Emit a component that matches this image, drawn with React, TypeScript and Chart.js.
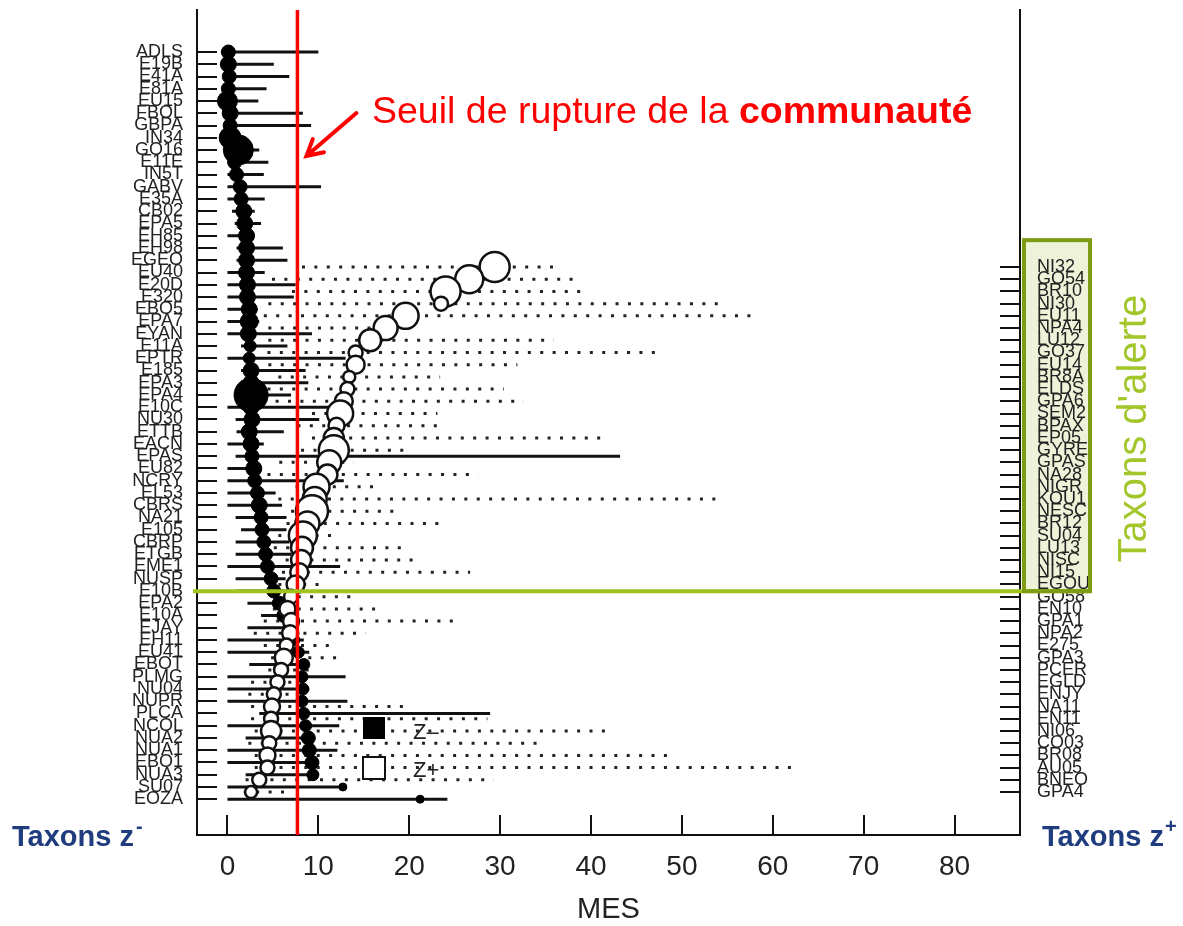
import React, { useEffect, useRef } from 'react';
import { Chart, registerables } from 'chart.js';

Chart.register(...registerables);

const FONT = "'Liberation Sans', Arial, Helvetica, sans-serif";

// ---------- z- taxa (left axis) ----------
const zMinusTaxa = [
  'ADLS', 'E19B', 'E41A', 'E81A', 'EU15', 'FBOL', 'GBPA', 'IN34', 'GO16', 'E11E',
  'IN5T', 'GABV', 'E35A', 'CB02', 'EPA5', 'EH85', 'EH98', 'EGEO', 'EU40', 'E20D',
  'E320', 'EBO5', 'EPA7', 'EYAN', 'E11A', 'EPTR', 'E185', 'EPA3', 'EPA4', 'E10C',
  'NU30', 'ETTB', 'EACN', 'EPAS', 'EU82', 'NCRY', 'EL53', 'CBRS', 'NA21', 'E105',
  'CBRP', 'ETGB', 'EME1', 'NUSP', 'E10B', 'EPA2', 'E10A', 'EJAY', 'EH11', 'EU41',
  'EBOT', 'PLMG', 'NU04', 'NUPR', 'PLCA', 'NCOL', 'NUA2', 'NUA1', 'EBO1', 'NUA3',
  'SU07', 'EOZA',
];
const zMinusCp = [
  0.1, 0.1, 0.2, 0.1, 0.0, 0.3, 0.3, 0.3, 1.2, 0.8,
  1.0, 1.4, 1.5, 1.8, 1.9, 2.1, 2.1, 2.1, 2.1, 2.2,
  2.2, 2.4, 2.4, 2.3, 2.5, 2.4, 2.6, 2.6, 2.6, 2.6,
  2.7, 2.4, 2.6, 2.7, 2.9, 3.0, 3.3, 3.5, 3.7, 3.8,
  4.0, 4.2, 4.4, 4.8, 5.1, 5.7, 6.2, 6.8, 7.3, 7.8,
  8.4, 8.2, 8.3, 8.2, 8.4, 8.6, 8.9, 9.0, 9.3, 9.4,
  12.7, 21.2,
];
const zMinusQ05 = [
  0, 0, 0, 0, 0, 0, 0, 0, 0, 0,
  0, 0, 0, 0.5, 0.8, 0, 1.0, 1.0, 0, 0,
  0, 0, 0, 0, 1.5, 0, 1.5, 1.5, 1.0, 0,
  0.9, 1.0, 0, 0.9, 0, 0, 0, 0, 0.9, 1.5,
  0.9, 0.9, 0, 0.9, 1.0, 2.2, 3.7, 2.2, 0, 0,
  2.4, 0, 0, 0, 3.5, 0, 2.0, 0, 0, 2.0,
  0, 0,
];
const zMinusQ95 = [
  10.0, 5.1, 6.8, 4.3, 3.4, 8.3, 9.2, 2.0, 3.5, 4.5,
  4.0, 10.3, 4.1, 3.0, 3.7, 3.0, 6.1, 6.6, 4.1, 7.5,
  7.3, 3.3, 3.5, 9.3, 6.6, 13.0, 8.6, 8.9, 7.0, 11.4,
  10.1, 6.2, 4.0, 43.2, 3.5, 12.8, 5.3, 6.0, 6.5, 6.5,
  6.8, 7.0, 12.4, 6.4, 7.0, 6.6, 7.3, 7.5, 8.4, 9.0,
  9.0, 13.0, 9.0, 13.2, 28.9, 12.3, 9.5, 12.1, 9.8, 9.8,
  12.8, 24.2,
];
const zMinusSize = [
  7, 8, 7, 7, 10, 8, 7, 11, 15, 7,
  7, 7, 7, 8, 8, 8, 8, 8, 8, 8,
  8, 8, 9, 8, 6, 6, 8, 8, 17, 8,
  8, 8, 8, 7, 8, 7, 7, 8, 7, 7,
  7, 7, 7, 7, 7, 7, 7, 6, 6, 6,
  6, 6, 6, 6, 6, 6, 7, 7, 7, 6,
  4, 4,
];

// ---------- z+ taxa (right axis) ----------
const zPlusTaxa = [
  'NI32', 'GO54', 'BR10', 'NI30', 'EU11', 'NPA4', 'LU12', 'GO37', 'EU14', 'BR8A',
  'ELDS', 'GPA6', 'SEM2', 'BPAX', 'EP05', 'GYRE', 'GPAS', 'NA28', 'NIGR', 'KOU1',
  'NESC', 'BR12', 'SU04', 'LU13', 'NISC', 'NI15', 'EGOU', 'GO58', 'EN10', 'GPA1',
  'NPA2', 'E275', 'GPA3', 'PCER', 'EGLD', 'ENJY', 'NA11', 'EN11', 'NI06', 'CO03',
  'BR08', 'AU05', 'BNEO', 'GPA4',
];
const zPlusCp = [
  29.4, 26.6, 24.0, 23.5, 19.6, 17.4, 15.7, 14.1, 14.1, 13.4,
  13.2, 12.8, 12.4, 12.0, 11.7, 11.7, 11.2, 11.0, 9.8, 9.6,
  9.3, 8.8, 8.3, 8.2, 8.1, 7.9, 7.5, 7.0, 6.6, 7.0,
  6.9, 6.5, 6.2, 5.9, 5.5, 5.1, 4.9, 4.8, 4.8, 4.6,
  4.4, 4.4, 3.5, 2.6,
];
const zPlusQ05 = [
  8.2, 4.9, 7.1, 4.5, 4.0, 4.5, 4.5, 4.4, 4.5, 5.6,
  4.4, 5.3, 9.3, 7.7, 9.3, 8.1, 5.7, 4.4, 7.5, 5.6,
  7.0, 6.5, 5.6, 5.1, 6.4, 6.0, 5.6, 5.0, 5.0, 4.0,
  2.9, 4.0, 4.8, 4.5, 2.6, 2.3, 2.6, 2.6, 3.0, 2.3,
  3.0, 3.0, 2.0, 1.8,
];
const zPlusQ95 = [
  36.6, 38.8, 39.6, 54.6, 58.1, 19.0, 35.9, 47.6, 31.9, 23.4,
  30.4, 32.6, 23.1, 23.1, 41.6, 20.3, 13.9, 27.6, 17.0, 54.2,
  19.0, 23.4, 12.4, 19.9, 21.4, 26.7, 11.0, 13.6, 16.8, 25.8,
  15.2, 11.7, 12.8, 9.9, 8.0, 7.5, 20.1, 28.6, 42.3, 35.0,
  48.7, 63.0, 29.3, 6.6,
];
const zPlusSize = [
  15, 14, 15, 7, 13, 12, 11, 7, 9, 6,
  7, 9, 13, 8, 10, 15, 12, 10, 13, 12,
  16, 12, 14, 11, 10, 9, 9, 7, 8, 8,
  8, 7, 9, 7, 7, 7, 8, 7, 10, 7,
  8, 7, 7, 6,
];

const xTicks = [0, 10, 20, 30, 40, 50, 60, 70, 80];
const threshold = 7.7; // community change point (MES)
const alertCount = 27; // z+ taxa NI32..EGOU flagged as alert taxa

// axis ranges (layout)
const X_MIN = -3.35;
const X_MAX = 87.2;
const YL_MIN = -3.43;
const YL_MAX = 63.92;
const YR_MIN = -21.05;
const YR_MAX = 46.52;

const segments = (lo: number[], hi: number[]) =>
  lo.flatMap((a, i) => [
    { x: a, y: i },
    { x: hi[i], y: i },
    { x: null, y: null },
  ]);

const annotations = {
  id: 'annotations',
  beforeDraw(chart: any) {
    const { ctx, chartArea: ca, scales } = chart;
    const yR = scales.yR;
    const top = yR.getPixelForValue(-2.2);
    const bot = yR.getPixelForValue(alertCount - 0.45);
    ctx.save();
    ctx.fillStyle = '#eef2d8';
    ctx.fillRect(ca.right + 4, top, 66, bot - top);
    ctx.restore();
  },
  afterDraw(chart: any) {
    const { ctx, chartArea: ca, scales } = chart;
    const yR = scales.yR;
    const xS = scales.x;
    const top = yR.getPixelForValue(-2.2);
    const gy = yR.getPixelForValue(alertCount - 0.45);
    ctx.save();

    // legend
    ctx.fillStyle = '#000';
    ctx.fillRect(363, 717, 22, 22);
    ctx.fillStyle = '#fff';
    ctx.fillRect(363, 757, 22, 22);
    ctx.strokeStyle = '#111';
    ctx.lineWidth = 2;
    ctx.strokeRect(363, 757, 22, 22);
    ctx.fillStyle = '#222';
    ctx.font = `22px ${FONT}`;
    ctx.textAlign = 'left';
    ctx.textBaseline = 'middle';
    ctx.fillText('Z\u2013', 413, 733);
    ctx.fillText('Z+', 413, 771);

    // green alert line and box
    ctx.strokeStyle = '#9fc41c';
    ctx.lineWidth = 4;
    ctx.beginPath();
    ctx.moveTo(ca.left - 4, gy);
    ctx.lineTo(ca.right + 70, gy);
    ctx.stroke();
    ctx.strokeStyle = '#7e9b14';
    ctx.lineWidth = 4;
    ctx.strokeRect(ca.right + 4, top, 66, gy - top);

    ctx.save();
    ctx.translate(ca.right + 115, (top + gy) / 2 + 13);
    ctx.rotate(-Math.PI / 2);
    ctx.fillStyle = '#a3c62b';
    ctx.font = `40px ${FONT}`;
    ctx.textAlign = 'center';
    ctx.textBaseline = 'middle';
    ctx.fillText("Taxons d'alerte", 0, 0);
    ctx.restore();

    // arrow and threshold label
    const tx = xS.getPixelForValue(threshold) + 9;
    const ty = 156;
    const sx = tx + 50;
    const sy = 113;
    ctx.strokeStyle = '#ff0000';
    ctx.lineWidth = 4;
    ctx.lineCap = 'round';
    ctx.beginPath();
    ctx.moveTo(sx, sy);
    ctx.lineTo(tx, ty);
    const ang = Math.atan2(ty - sy, tx - sx);
    const hl = 18;
    ctx.moveTo(tx - hl * Math.cos(ang - 0.5), ty - hl * Math.sin(ang - 0.5));
    ctx.lineTo(tx, ty);
    ctx.lineTo(tx - hl * Math.cos(ang + 0.5), ty - hl * Math.sin(ang + 0.5));
    ctx.stroke();

    ctx.fillStyle = '#ff0000';
    ctx.textAlign = 'left';
    ctx.textBaseline = 'middle';
    ctx.font = `37.5px ${FONT}`;
    const part1 = 'Seuil de rupture de la ';
    ctx.fillText(part1, 372, 113);
    const w1 = ctx.measureText(part1).width;
    ctx.font = `bold 37.5px ${FONT}`;
    ctx.fillText('communauté', 372 + w1, 113);

    // bottom labels
    ctx.fillStyle = '#1f3c7e';
    ctx.font = `bold 29px ${FONT}`;
    ctx.textBaseline = 'middle';
    const lab = 'Taxons z';
    ctx.fillText(lab, 12, 838);
    const wl = ctx.measureText(lab).width;
    ctx.fillText(lab, 1042, 838);
    ctx.font = `bold 20px ${FONT}`;
    ctx.fillText('-', 12 + wl + 2, 827);
    ctx.fillText('+', 1042 + wl + 1, 827);

    ctx.restore();
  },
};

export default function App() {
  const ref = useRef<HTMLCanvasElement | null>(null);

  useEffect(() => {
    if (!ref.current) return;
    const chart = new Chart(ref.current, {
      type: 'scatter',
      data: {
        datasets: [
          {
            label: 'threshold',
            data: [
              { x: threshold, y: YL_MIN },
              { x: threshold, y: YL_MAX },
            ],
            yAxisID: 'yL',
            showLine: true,
            borderColor: '#ff0000',
            borderWidth: 3.5,
            pointRadius: 0,
          },
          {
            label: 'z+',
            data: zPlusCp.map((v, i) => ({ x: v, y: i })),
            yAxisID: 'yR',
            pointRadius: zPlusSize,
            pointBackgroundColor: '#ffffff',
            pointBorderColor: '#111111',
            pointBorderWidth: 2.5,
          },
          {
            label: 'z-',
            data: zMinusCp.map((v, i) => ({ x: v, y: i })),
            yAxisID: 'yL',
            pointRadius: zMinusSize,
            pointBackgroundColor: '#000000',
            pointBorderColor: '#000000',
            pointBorderWidth: 1,
          },
          {
            label: 'z- 5-95%',
            data: segments(zMinusQ05, zMinusQ95) as any,
            yAxisID: 'yL',
            showLine: true,
            spanGaps: false,
            borderColor: '#111111',
            borderWidth: 3,
            pointRadius: 0,
          },
          {
            label: 'z+ 5-95%',
            data: segments(zPlusQ05, zPlusQ95) as any,
            yAxisID: 'yR',
            showLine: true,
            spanGaps: false,
            borderColor: '#222222',
            borderWidth: 3,
            borderDash: [3, 9.4],
            pointRadius: 0,
          },
        ],
      },
      options: {
        animation: false,
        responsive: true,
        maintainAspectRatio: false,
        events: [],
        layout: { autoPadding: false, padding: { top: 10, left: 0, right: 0, bottom: 0 } },
        plugins: {
          legend: { display: false },
          tooltip: { enabled: false },
        },
        scales: {
          x: {
            type: 'linear',
            position: 'bottom',
            min: X_MIN,
            max: X_MAX,
            afterBuildTicks: (s: any) => {
              s.ticks = xTicks.map((v) => ({ value: v }));
            },
            afterFit: (s: any) => {
              s.height = 91;
              s.paddingLeft = 0;
              s.paddingRight = 0;
            },
            grid: { drawOnChartArea: false, drawTicks: true, tickLength: -20, color: '#111', lineWidth: 2 },
            border: { display: true, color: '#111', width: 2 },
            ticks: {
              padding: 35,
              color: '#222',
              font: { family: FONT, size: 28 },
              maxRotation: 0,
              autoSkip: false,
            },
            title: {
              display: true,
              text: 'MES',
              color: '#222',
              font: { family: FONT, size: 29, lineHeight: 1 },
              padding: { top: 0, bottom: 2 },
            },
          },
          yL: {
            type: 'linear',
            position: 'left',
            reverse: true,
            min: YL_MIN,
            max: YL_MAX,
            afterBuildTicks: (s: any) => {
              s.ticks = zMinusTaxa.map((_, i) => ({ value: i }));
            },
            afterFit: (s: any) => {
              s.width = 197;
              s.paddingTop = 0;
              s.paddingBottom = 0;
            },
            grid: { drawOnChartArea: false, drawTicks: true, tickLength: -20, color: '#111', lineWidth: 2 },
            border: { display: true, color: '#111', width: 2 },
            ticks: {
              autoSkip: false,
              padding: 34,
              color: '#222',
              font: { family: FONT, size: 18, lineHeight: 1 },
              callback: (_v: any, i: number) => zMinusTaxa[i],
            },
          },
          yR: {
            type: 'linear',
            position: 'right',
            reverse: true,
            min: YR_MIN,
            max: YR_MAX,
            afterBuildTicks: (s: any) => {
              s.ticks = zPlusTaxa.map((_, i) => ({ value: i }));
            },
            afterFit: (s: any) => {
              s.width = 163;
              s.paddingTop = 0;
              s.paddingBottom = 0;
            },
            grid: { drawOnChartArea: false, drawTicks: true, tickLength: -20, color: '#111', lineWidth: 2 },
            border: { display: true, color: '#111', width: 2 },
            ticks: {
              autoSkip: false,
              padding: 37,
              color: '#222',
              font: { family: FONT, size: 18, lineHeight: 1 },
              callback: (_v: any, i: number) => zPlusTaxa[i],
            },
          },
        },
      },
      plugins: [annotations],
    } as any);
    return () => chart.destroy();
  }, []);

  return (
    <div style={{ position: 'absolute', left: 0, top: 0, width: 1183, height: 926, background: '#fff' }}>
      <canvas ref={ref} />
    </div>
  );
}
